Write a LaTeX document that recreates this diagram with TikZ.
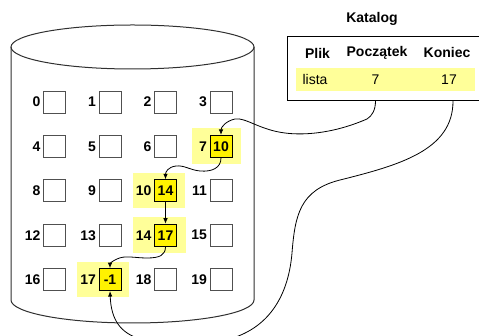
\documentclass[tikz,border=0pt]{standalone}
\usepackage{fontspec}
\setmainfont{Liberation Sans}
\usetikzlibrary{arrows.meta,backgrounds}
\definecolor{hlyellow}{HTML}{FFFF99}
\definecolor{cellgray}{HTML}{505050}
\definecolor{cylgray}{HTML}{303030}
\tikzset{
  fs/.style={font=\fontsize{14}{16}\selectfont},
  fb/.style={font=\bfseries\fontsize{14}{16}\selectfont},
  cell/.style={draw=cellgray, line width=0.9pt, minimum size=22pt, inner sep=0pt, fb},
  used/.style={cell, fill=yellow, draw=black},
  lbl/.style={fb, inner sep=0pt, anchor=east},
  conn/.style={draw=black, line width=0.8pt, -{Latex[length=5.5pt,width=4.5pt]}},
  hl/.style={fill=hlyellow, draw=none}
}
\begin{document}
\begin{tikzpicture}[x=1pt,y=-1pt]
\useasboundingbox (0,0) rectangle (479,336);
\clip (0,0) rectangle (479,336);
% cylinder
\draw[cylgray, line width=1pt] (11,47) -- (11,300)
  arc[start angle=180, end angle=360, x radius=121.5pt, y radius=23pt] -- (254,47);
\draw[cylgray, line width=1pt] (132.5,47) ellipse [x radius=121.5pt, y radius=22pt];
% cells
\foreach \i in {0,...,19} {
  \pgfmathtruncatemacro\r{int(\i/4)}
  \pgfmathtruncatemacro\c{mod(\i,4)}
  \node[cell] (c\i) at ({54.5+55.5*\c},{102+44.4*\r}) {};
  \node[lbl] (l\i) at ([xshift=-2.5pt]c\i.west) {\i};
}
\node[used] (v7) at (c7) {10};
\node[used] (v10) at (c10) {14};
\node[used] (v14) at (c14) {17};
\node[used] (v17) at (c17) {-1};
\begin{scope}[on background layer]
  \fill[hl] ([shift={(-29,-18)}]c7.center) rectangle ([shift={(20,17.5)}]c7.center);
  \fill[hl] ([shift={(-32.5,-18)}]c10.center) rectangle ([shift={(19.5,17.5)}]c10.center);
  \fill[hl] ([shift={(-32.5,-18)}]c14.center) rectangle ([shift={(20,17.5)}]c14.center);
  \fill[hl] ([shift={(-33,-17.5)}]c17.center) rectangle ([shift={(19,17.5)}]c17.center);
\end{scope}
% catalog
\node[fb] (kat) at (372,19) {Katalog};
\node[draw=black, line width=1.1pt, minimum width=205pt, minimum height=64pt, anchor=north west, inner sep=0pt] (tab) at (287,36) {};
\fill[hlyellow] (296,68) rectangle (475,91);
\node[fb] (hplik) at (317.5,53) {Plik};
\node[fb] (hpocz) at (377,53) {Początek};
\node[fb] (hkon) at (447,53) {Koniec};
\node[fs] (lista) at (315,80) {lista};
\node[fs] (pocz) at (375.5,80) {7};
\node[fs] (kon) at (449,80) {17};
% connectors
\draw[conn] (pocz |- tab.south) .. controls (375.5,110) and (372,116) .. (367,119)
  .. controls (330,135) and (300,135) .. (285,133)
  .. controls (260,130) and (245,117) .. (235,119)
  .. controls (226,121) and (221,127) .. (v7.north);
\draw[conn] ([xshift=4pt]kon |- tab.south) .. controls (453,150) and (400,165) .. (340,180)
  .. controls (300,190) and (295,215) .. (292,253)
  .. controls (288,300) and (265,335) .. (215,342)
  .. controls (150,345) and (112,345) .. (v17.south);
\draw[conn] (v7.south) .. controls (221,168) and (212,172) .. (200,171)
  .. controls (190,170) and (184,165) .. (176,166)
  .. controls (168,167) and (165.5,172) .. (v10.north);
\draw[conn] (v10.south) -- (v14.north);
\draw[conn] (v14.south) .. controls (165.5,255) and (160,258) .. (147,258)
  .. controls (135,258) and (125,255) .. (117,259)
  .. controls (112,261) and (110,264) .. (v17.north);
\end{tikzpicture}
\end{document}
